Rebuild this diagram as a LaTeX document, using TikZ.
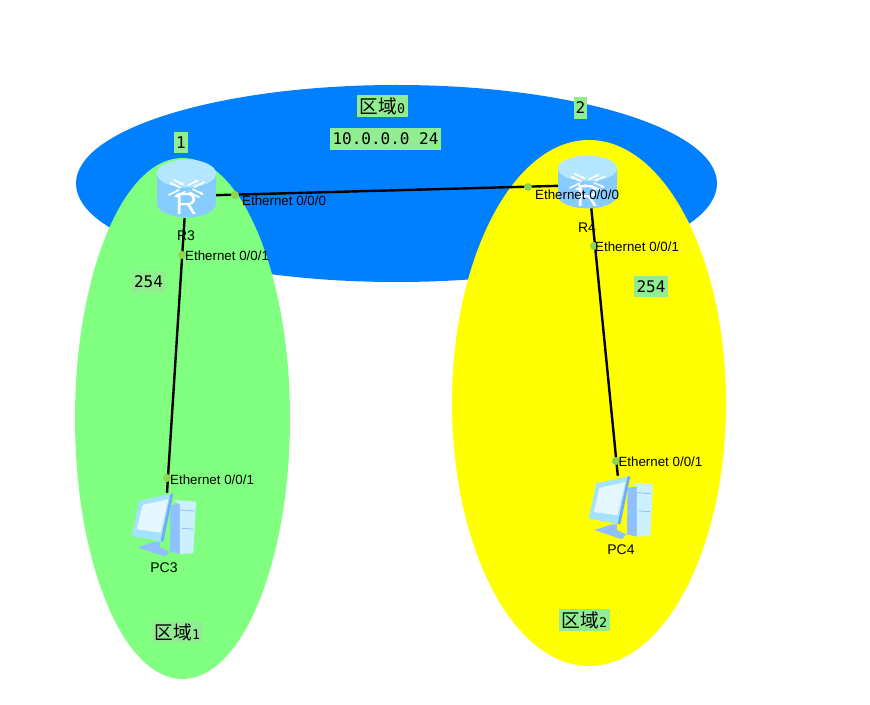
\documentclass[tikz,border=0pt]{standalone}
\usepackage{fontspec}
\setmainfont{Liberation Sans}
\setmonofont{DejaVu Sans Mono}
\newfontfamily\cjk{Noto Sans CJK SC}
\usepackage{xcolor}
\usepackage{tikz}
\usetikzlibrary{arrows.meta,positioning,shapes.geometric}
\definecolor{areablue}{HTML}{0080FF}
\definecolor{areagreen}{HTML}{80FF80}
\definecolor{areayellow}{HTML}{FFFF00}
\definecolor{labelgreen}{HTML}{90EE90}
\definecolor{portdot}{HTML}{8FD650}
\definecolor{icontop}{HTML}{B4E6FF}
\definecolor{iconside}{HTML}{86CCFF}
\definecolor{iconlight}{HTML}{CDF0FF}
\definecolor{icondark}{HTML}{6FA8FF}
\definecolor{iconmid}{HTML}{8FC0FF}
\definecolor{iconframe}{HTML}{A4E2FF}
\definecolor{iconscreen}{HTML}{E4F7FF}
\tikzset{
  areashape/.style={ellipse,inner sep=0pt},
  labelbox/.style={fill=labelgreen,inner xsep=1.6pt,inner ysep=0pt,minimum height=16pt,
    font=\ttfamily\fontsize{12}{14}\selectfont},
  areabox/.style={fill=labelgreen,inner xsep=2pt,inner ysep=0pt,minimum height=17pt,
    font=\fontsize{10}{12}\selectfont},
  devicebox/.style={inner sep=0pt,minimum width=44pt},
  linkline/.style={line width=1.8pt,black},
  portnode/.style={circle,fill=portdot,inner sep=0pt,minimum size=6pt},
  porttext/.style={inner sep=0pt,font=\fontsize{10}{12}\selectfont},
  devicetext/.style={inner sep=0pt,font=\fontsize{10.5}{12}\selectfont},
  routericon/.pic={
    \path[left color=iconside,middle color=iconlight,right color=iconside]
      (-29.5,-15) -- (-29.5,15) arc[start angle=180,end angle=0,x radius=29.5,y radius=14]
      -- (29.5,-15) -- cycle;
    \fill[icontop] (0,-15) ellipse[x radius=29.5,y radius=14];
    \foreach \a in {45,135,225,315}
      \draw[white,line width=1.2pt,-{Latex[length=1.2mm]},yscale=0.5,rotate=\a] (5,-3.5) -- (22,-3.5);
    \foreach \a in {45,135,225,315}
      \draw[white,line width=1.2pt,{Latex[length=1.2mm]}-,yscale=0.5,rotate=\a] (5,3.5) -- (22,3.5);
    \node[white,inner sep=0pt,font=\fontsize{23}{23}\selectfont] at (0,15) {R};
  },
  pcicon/.pic={
    \begin{scope}[scale=0.3333]
      \fill[iconmid] (22,-55) -- (50,-58) -- (50,92) -- (20,85) -- cycle;
      \fill[iconlight] (30,-70) -- (98,-65) -- (90,90) -- (50,92) -- (50,-58) -- cycle;
      \fill[iconmid] (-78,72) -- (-25,55) -- (-10,55) -- (-10,72) -- (18,85) -- (5,100) -- cycle;
      \fill[iconframe] (-72,-68) -- (30,-90) -- (0,55) -- (-95,38) -- cycle;
      \fill[icondark] (22,-88) -- (30,-90) -- (0,55) -- (-8,54) -- cycle;
      \fill[iconscreen] (-62,-55) -- (15,-72) -- (-8,28) -- (-80,18) -- cycle;
      \draw[iconmid,line width=0.6pt] (50,-40) -- (92,-37) (55,15) -- (90,17);
    \end{scope}
  }
}
\begin{document}
\begin{tikzpicture}[x=0.75pt,y=-0.75pt]
  \useasboundingbox (0,0) rectangle (870,705);
  \node[areashape,fill=areablue,minimum width=480.75pt,minimum height=147.75pt] (area0) at (396.5,183.5) {};
  \node[areashape,fill=areayellow,minimum width=205.5pt,minimum height=394.5pt] (area2) at (589,403) {};
  \node[areashape,fill=areagreen,minimum width=161.25pt,minimum height=390.75pt] (area1) at (182.5,418.5) {};
  \node[devicebox,minimum height=33pt] (R3) at (186,196) {};
  \node[devicebox,minimum height=34.5pt] (R4) at (589,185) {};
  \node[devicebox,minimum height=46.5pt] (PC3) at (165,524) {};
  \node[devicebox,minimum height=48pt] (PC4) at (621,508) {};
  \draw[linkline] (R3) -- (R4);
  \draw[linkline] (R3) -- (PC3);
  \draw[linkline] (R4) -- (PC4);
  \pic at (186.5,188.5) {routericon};
  \pic[yscale=0.91] at (587.5,182) {routericon};
  \pic at (163.3,523.3) {pcicon};
  \pic at (620.3,506) {pcicon};
  \node[portnode] (r3e0) at (235,195) {};
  \node[portnode] (r3e1) at (182,255) {};
  \node[portnode] (r4e0) at (528,187) {};
  \node[portnode] (r4e1) at (594,246) {};
  \node[portnode] (pc3e1) at (167,478) {};
  \node[portnode] (pc4e1) at (616,461) {};
  \node[porttext,right=2pt of r3e0,yshift=-4.5pt] (t1) {Ethernet 0/0/0};
  \node[porttext,right=2pt of r4e0,yshift=-5.5pt] (t2) {Ethernet 0/0/0};
  \node[porttext,right=-1pt of r3e1,yshift=-0.5pt] (t3) {Ethernet 0/0/1};
  \node[porttext,right=-2.5pt of r4e1,yshift=-0.5pt] (t4) {Ethernet 0/0/1};
  \node[porttext,right=-1pt of pc3e1,yshift=-1pt] (t5) {Ethernet 0/0/1};
  \node[porttext,right=-1.5pt of pc4e1,yshift=-0.5pt] (t6) {Ethernet 0/0/1};
  \node[devicetext] (n3) at (186,236) {R3};
  \node[devicetext] (n4) at (587,228) {R4};
  \node[devicetext] (n5) at (164,568) {PC3};
  \node[devicetext] (n6) at (621,550) {PC4};
  \node[labelbox] (l1) at (181,142.5) {1};
  \node[labelbox] (l2) at (580.5,108) {2};
  \node[labelbox] (l3) at (385.5,139) {10.0.0.0 24};
  \node[labelbox] (l4) at (148.5,282) {254};
  \node[labelbox] (l5) at (651,286.5) {254};
  \node[areabox] (a0) at (382.5,106) {{\cjk\fontsize{14}{14}\selectfont 区域}\texttt{0}};
  \node[areabox] (a1) at (177.5,632) {{\cjk\fontsize{14}{14}\selectfont 区域}\texttt{1}};
  \node[areabox] (a2) at (584.5,620) {{\cjk\fontsize{14}{14}\selectfont 区域}\texttt{2}};
\end{tikzpicture}
\end{document}
